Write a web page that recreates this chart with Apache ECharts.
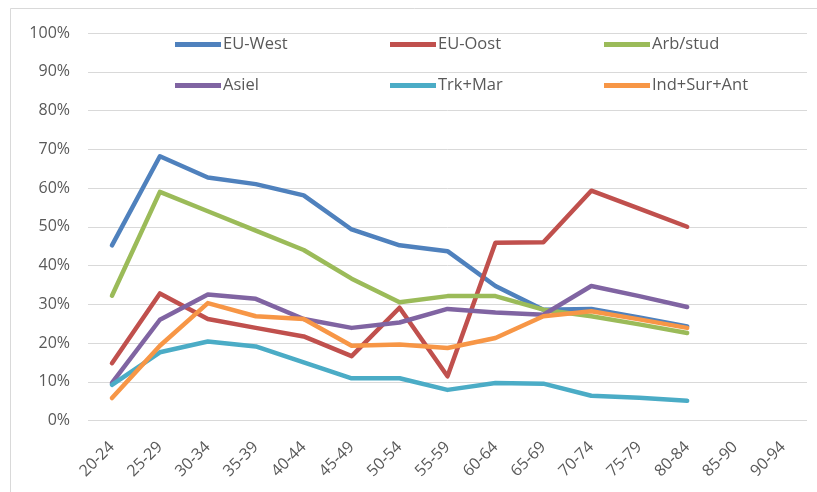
<!DOCTYPE html>
<html>
<head>
<meta charset="utf-8">
<script src="https://cdn.jsdelivr.net/npm/echarts@6/dist/echarts.min.js"></script>
<style>
  html, body { margin: 0; padding: 0; background: #fff; }
  #chart { width: 817px; height: 492px; }
</style>
</head>
<body>
<div id="chart"></div>
<script>
// leeftijdsgroepen
var categories = ['20-24', '25-29', '30-34', '35-39', '40-44', '45-49', '50-54', '55-59',
  '60-64', '65-69', '70-74', '75-79', '80-84', '85-90', '90-94']

// aandelen per herkomstgroep (fractie)
var euWest = [0.452, 0.682, 0.627, 0.610, 0.581, 0.493, 0.452, 0.437, 0.347, 0.286, 0.288, 0.266, 0.243, null, null]
var euOost = [0.148, 0.328, 0.262, 0.239, 0.217, 0.166, 0.291, 0.114, 0.459, 0.460, 0.593, 0.547, 0.500, null, null]
var arbStud = [0.322, 0.590, 0.540, 0.490, 0.440, 0.366, 0.305, 0.321, 0.321, 0.286, 0.269, 0.248, 0.226, null, null]
var asiel = [0.097, 0.260, 0.325, 0.314, 0.262, 0.239, 0.253, 0.288, 0.279, 0.273, 0.347, 0.321, 0.293, null, null]
var trkMar = [0.092, 0.176, 0.204, 0.191, 0.150, 0.109, 0.109, 0.079, 0.097, 0.095, 0.064, 0.059, 0.051, null, null]
var indSurAnt = [0.058, 0.193, 0.303, 0.269, 0.262, 0.193, 0.196, 0.187, 0.213, 0.269, 0.282, 0.261, 0.239, null, null]

var names = ['EU-West', 'EU-Oost', 'Arb/stud', 'Asiel', 'Trk+Mar', 'Ind+Sur+Ant']
var values = [euWest, euOost, arbStud, asiel, trkMar, indSurAnt]
var colors = ['#4F81BD', '#C0504D', '#9BBB59', '#8064A2', '#4BACC6', '#F79646']

var myChart = echarts.init(document.getElementById('chart'))

var series = names.map(function (n, i) {
  return {
    name: n,
    type: 'line',
    data: values[i],
    symbol: 'none',
    lineStyle: { width: 4.5, color: colors[i], cap: 'round', join: 'round' },
    itemStyle: { color: colors[i] }
  }
})

// legenda: 2 rijen van 3, elk item een eigen legend
var legendX = [170, 385, 599]
var legendY = [31, 72]
var legends = names.map(function (n, i) {
  return {
    data: [n],
    left: legendX[i % 3],
    top: legendY[Math.floor(i / 3)],
    itemWidth: 46,
    itemHeight: 5,
    itemGap: 0,
    icon: 'rect',
    textStyle: {
      fontFamily: 'Open Sans',
      fontSize: 16.5,
      color: '#595959',
      padding: [0, 0, 0, -3]
    }
  }
})

var option = {
  animation: false,
  backgroundColor: '#fff',
  // kader rond de grafiek
  graphic: [{
    type: 'rect',
    shape: { x: 10.5, y: 8.5, width: 830, height: 500 },
    style: { fill: 'none', stroke: '#d9d9d9', lineWidth: 1 },
    silent: true
  }],
  legend: legends,
  grid: { left: 88, right: 10, top: 33, bottom: 71.5 },
  xAxis: {
    type: 'category',
    data: categories,
    boundaryGap: true,
    axisLine: { show: false },
    axisTick: { show: false },
    axisLabel: {
      rotate: 45,
      interval: 0,
      margin: 24,
      fontFamily: 'Open Sans',
      fontSize: 16,
      color: '#595959'
    }
  },
  yAxis: {
    type: 'value',
    min: 0,
    max: 1,
    interval: 0.1,
    axisLine: { show: false },
    axisTick: { show: false },
    splitLine: { lineStyle: { color: '#d9d9d9', width: 1 } },
    axisLabel: {
      margin: 18,
      fontFamily: 'Open Sans',
      fontSize: 16,
      color: '#595959',
      formatter: function (v) { return Math.round(v * 100) + '%' }
    }
  },
  series: series
}

myChart.setOption(option)
</script>
</body>
</html>
